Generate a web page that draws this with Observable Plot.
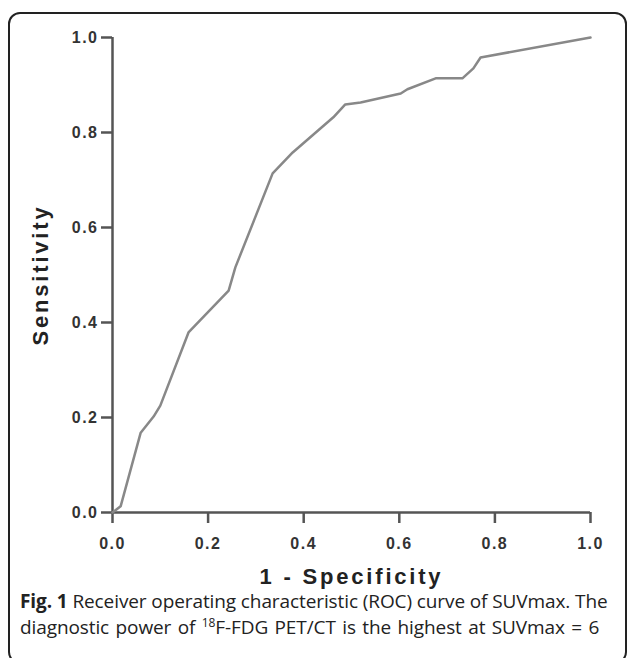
<!DOCTYPE html>
<html>
<head>
<meta charset="utf-8">
<script src="https://cdn.jsdelivr.net/npm/d3@7"></script>
<script src="https://cdn.jsdelivr.net/npm/@observablehq/plot@0.6"></script>
<style>
  html, body { margin: 0; padding: 0; background: #fff; }
  body { width: 629px; height: 658px; position: relative; overflow: hidden; }
  #frame {
    position: absolute; left: 8px; top: 12px; width: 619px; height: 652px;
    border: 2px solid #222; border-radius: 12px; box-sizing: border-box;
  }
  #chart { position: absolute; left: 0; top: 0; }
  #caption {
    position: absolute; left: 20px; top: 588px; width: 605px;
    font-family: "Open Sans", sans-serif; font-size: 19px; line-height: 26px;
    color: #222; letter-spacing: -0.1px; white-space: nowrap;
  }
  #caption b { font-weight: 700; }
  #caption .l2 { word-spacing: 1.6px; }
  #caption sup { font-size: 12px; vertical-align: 0; position: relative; top: -7px; }
</style>
</head>
<body>
<div id="frame"></div>
<div id="chart"></div>
<div id="caption"><b>Fig. 1</b> Receiver operating characteristic (ROC) curve of SUVmax. The<br><span class="l2">diagnostic power of <sup>18</sup>F-FDG PET/CT is the highest at SUVmax = 6</span></div>
<script>
// 1 - Specificity (false positive rate)
const fpr = [0, 0.017, 0.059, 0.086, 0.10, 0.159, 0.243, 0.257, 0.335, 0.377, 0.462, 0.487, 0.519, 0.603, 0.617, 0.676, 0.732, 0.755, 0.770, 1.0];
// Sensitivity (true positive rate)
const tpr = [0, 0.013, 0.168, 0.202, 0.225, 0.379, 0.467, 0.516, 0.714, 0.758, 0.832, 0.859, 0.863, 0.882, 0.891, 0.914, 0.914, 0.935, 0.958, 1.0];
const xTicks = [0, 0.2, 0.4, 0.6, 0.8, 1.0];
const yTicks = [0, 0.2, 0.4, 0.6, 0.8, 1.0];
const xTitle = "1 - Specificity";
const yTitle = "Sensitivity";

const roc = fpr.map((x, i) => ({x, y: tpr[i]}));

const tickFont = {fontSize: 16, fontWeight: "bold", fill: "#333"};

const chart = Plot.plot({
  width: 629,
  height: 580,
  marginLeft: 112,
  marginRight: 39,
  marginTop: 37,
  marginBottom: 68,
  style: {fontFamily: "'Liberation Sans', Arial, sans-serif", background: "transparent", overflow: "visible"},
  x: {domain: [0, 1]},
  y: {domain: [0, 1]},
  marks: [
    Plot.axisX({ticks: xTicks, tickFormat: d => d.toFixed(1), tickSize: 11, tickPadding: 14, label: null,
      stroke: "#555", strokeWidth: 2.5, strokeOpacity: 1, ...tickFont}),
    Plot.axisY({ticks: yTicks, tickFormat: d => d.toFixed(1), tickSize: 11, tickPadding: 3, label: null,
      stroke: "#555", strokeWidth: 2.5, strokeOpacity: 1, ...tickFont}),
    Plot.ruleX([0], {stroke: "#555", strokeWidth: 2.5}),
    Plot.ruleY([0], {stroke: "#555", strokeWidth: 2.5}),
    Plot.line(roc, {x: "x", y: "y", stroke: "#888", strokeWidth: 2.5, strokeLinejoin: "round"}),
    Plot.text([xTitle], {frameAnchor: "bottom", textAnchor: "middle", dy: 71, fontSize: 22, fontWeight: "bold", fill: "#222", className: "ttl"}),
    Plot.text([yTitle], {frameAnchor: "left", textAnchor: "middle", lineAnchor: "middle", dx: -72, rotate: -90, fontSize: 22, fontWeight: "bold", fill: "#222", className: "ttl"})
  ]
});
document.getElementById("chart").appendChild(chart);
chart.querySelectorAll("g[aria-label='x-axis tick label'] text, g[aria-label='y-axis tick label'] text").forEach(t => t.style.letterSpacing = "1.5px");
chart.querySelectorAll(".ttl text").forEach(t => t.style.letterSpacing = "2.8px");
</script>
</body>
</html>
